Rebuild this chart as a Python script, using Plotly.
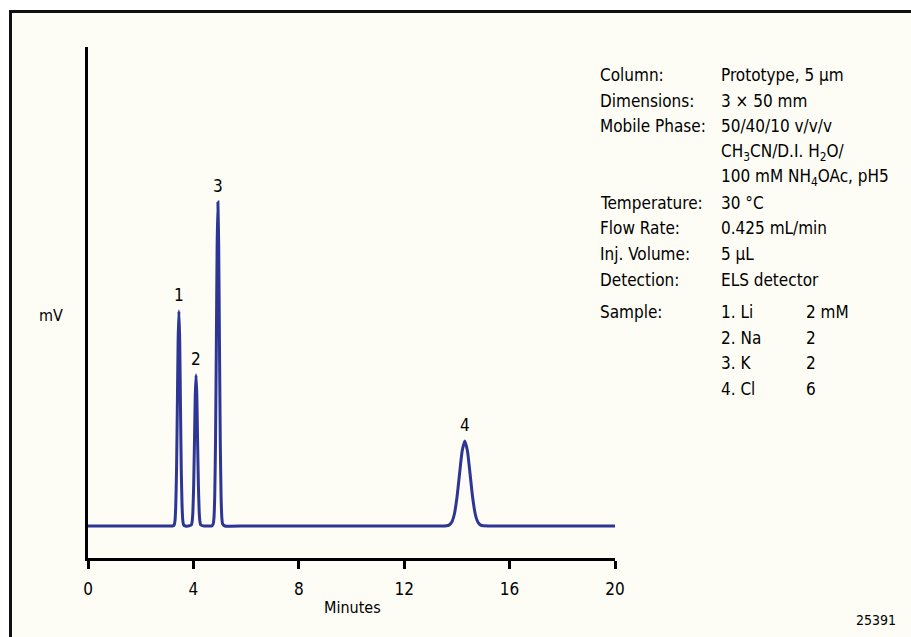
import plotly.graph_objects as go

# ---- data ----
time_min = [0, 1, 2, 3, 3.2,
            3.27, 3.30, 3.33, 3.36, 3.39, 3.42, 3.45, 3.48, 3.51, 3.54, 3.57, 3.60, 3.63,
            3.7, 3.8,
            3.92, 3.95, 3.98, 4.01, 4.04, 4.07, 4.10, 4.13, 4.16, 4.19, 4.22, 4.25, 4.28,
            4.4, 4.6, 4.7,
            4.75, 4.78, 4.81, 4.84, 4.87, 4.90, 4.93, 4.96, 4.99, 5.02, 5.05, 5.08, 5.11,
            5.2, 6, 8, 10, 12, 13, 13.5,
            13.6, 13.7, 13.8, 13.9, 14.0, 14.1, 14.2, 14.3, 14.4, 14.5, 14.6, 14.7, 14.8, 14.9, 15.0,
            15.2, 16, 18, 20]
signal_mv = [0, 0, 0, 0, 0,
             1, 5, 20, 56, 119, 185, 215, 185, 119, 56, 20, 5, 1,
             0, 0,
             1, 4, 14, 40, 83, 130, 151, 130, 83, 40, 14, 4, 1,
             0, 0, 0,
             2, 8, 30, 85, 179, 279, 324, 279, 179, 85, 30, 8, 2,
             0, 0, 0, 0, 0, 0, 0,
             0.2, 0.9, 3.7, 11.5, 28, 52, 75, 85, 75, 52, 28, 11.5, 3.7, 0.9, 0.2,
             0, 0, 0, 0]

peak_labels = ["1", "2", "3", "4"]
peak_times = [3.45, 4.10, 4.93, 14.3]
peak_heights = [215, 151, 324, 85]

x_ticks = [0, 4, 8, 12, 16, 20]

cond_labels = ["Column:", "Dimensions:", "Mobile Phase:", None, None, "Temperature:",
               "Flow Rate:", "Inj. Volume:", "Detection:"]
cond_values = ["Prototype, 5 µm", "3 × 50 mm", "50/40/10 v/v/v",
               "CH<sub>3</sub>CN/D.I. H<sub>2</sub>O/",
               "100 mM NH<sub>4</sub>OAc, pH5",
               "30 °C", "0.425 mL/min", "5 µL", "ELS detector"]
sample_names = ["1. Li", "2. Na", "3. K", "4. Cl"]
sample_conc = ["2 mM", "2", "2", "6"]

# ---- layout geometry ----
W, H = 911, 637
L, R, T, B = 88, 615, 47, 558
FONT = "DejaVu Sans Condensed, Liberation Sans Narrow, Arial Narrow, sans-serif"
BG = "#FDFDF5"
LINE = "#2D3694"
INFO_SIZE = 17


def px(xp):
    return (xp - L) / (R - L)


def py(yp):
    return (B - yp) / (B - T)


fig = go.Figure()
fig.add_trace(go.Scatter(x=time_min, y=signal_mv, mode="lines",
                         line=dict(color=LINE, width=3, shape="spline", smoothing=0.5),
                         hoverinfo="skip", showlegend=False))

annotations = []
for lab, t, h in zip(peak_labels, peak_times, peak_heights):
    annotations.append(dict(x=t, y=h, xref="x", yref="y", text=lab, showarrow=False,
                            yshift=16, yanchor="middle", xanchor="center",
                            font=dict(family=FONT, size=17, color="black")))

row_y = [75, 101, 126, 152, 177, 203, 228, 254, 280]
for yy, lab, val in zip(row_y, cond_labels, cond_values):
    if lab:
        annotations.append(dict(x=px(598), y=py(yy), xref="paper", yref="paper", text=lab,
                                showarrow=False, xanchor="left", yanchor="middle",
                                font=dict(family=FONT, size=INFO_SIZE, color="black")))
    annotations.append(dict(x=px(719), y=py(yy), xref="paper", yref="paper", text=val,
                            showarrow=False, xanchor="left", yanchor="middle",
                            font=dict(family=FONT, size=INFO_SIZE, color="black")))

sample_y = [312, 338, 363, 389]
annotations.append(dict(x=px(598), y=py(sample_y[0]), xref="paper", yref="paper",
                        text="Sample:", showarrow=False, xanchor="left", yanchor="middle",
                        font=dict(family=FONT, size=INFO_SIZE, color="black")))
for yy, n, c in zip(sample_y, sample_names, sample_conc):
    annotations.append(dict(x=px(719), y=py(yy), xref="paper", yref="paper", text=n,
                            showarrow=False, xanchor="left", yanchor="middle",
                            font=dict(family=FONT, size=INFO_SIZE, color="black")))
    annotations.append(dict(x=px(804), y=py(yy), xref="paper", yref="paper", text=c,
                            showarrow=False, xanchor="left", yanchor="middle",
                            font=dict(family=FONT, size=INFO_SIZE, color="black")))

annotations.append(dict(x=px(51), y=py(315), xref="paper", yref="paper", text="mV",
                        showarrow=False, xanchor="center", yanchor="middle",
                        font=dict(family=FONT, size=16, color="black")))
annotations.append(dict(x=px(352), y=py(608), xref="paper", yref="paper", text="Minutes",
                        showarrow=False, xanchor="center", yanchor="middle",
                        font=dict(family=FONT, size=16, color="black")))
annotations.append(dict(x=px(898), y=py(620), xref="paper", yref="paper", text="25391",
                        showarrow=False, xanchor="right", yanchor="middle",
                        font=dict(family=FONT, size=14, color="black")))

shapes = [
    # white strips outside the frame
    dict(type="rect", xref="paper", yref="paper", x0=px(0), x1=px(W), y0=py(0), y1=py(10),
         fillcolor="white", line=dict(width=0), layer="below"),
    dict(type="rect", xref="paper", yref="paper", x0=px(0), x1=px(9), y0=py(0), y1=py(H),
         fillcolor="white", line=dict(width=0), layer="below"),
    # frame lines
    dict(type="line", xref="paper", yref="paper", x0=px(9), x1=px(W), y0=py(11.5), y1=py(11.5),
         line=dict(color="#111111", width=3)),
    dict(type="line", xref="paper", yref="paper", x0=px(10.5), x1=px(10.5), y0=py(10), y1=py(H),
         line=dict(color="#111111", width=3)),
]

fig.update_layout(
    width=W, height=H,
    margin=dict(l=L, r=W - R, t=T, b=H - B, pad=0),
    paper_bgcolor=BG, plot_bgcolor=BG,
    showlegend=False,
    annotations=annotations,
    shapes=shapes,
    font=dict(family=FONT, size=17, color="black"),
    xaxis=dict(range=[0, 20], tickvals=x_ticks, ticktext=[str(v) for v in x_ticks],
               showline=True, linecolor="black", linewidth=2.5, mirror=False,
               ticks="outside", ticklen=8, tickwidth=2.5, tickcolor="black",
               showgrid=False, zeroline=False, ticklabelstandoff=6,
               tickfont=dict(family=FONT, size=17, color="black")),
    yaxis=dict(range=[-32, 479], showline=True, linecolor="black", linewidth=2.5,
               showticklabels=False, ticks="", showgrid=False, zeroline=False),
)

fig.write_html("out.html")
